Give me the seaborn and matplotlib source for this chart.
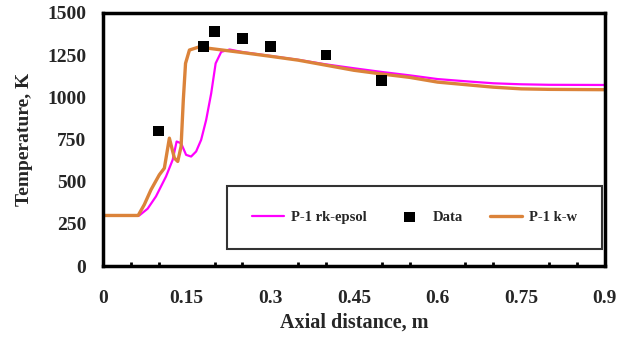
import matplotlib
matplotlib.use("Agg")
import matplotlib.pyplot as plt
import seaborn as sns
import pandas as pd
from matplotlib.ticker import MultipleLocator

# ---- data ----
rk_x = [0, 0.065, 0.08, 0.095, 0.113, 0.125, 0.132, 0.14, 0.149, 0.158, 0.167, 0.176,
        0.185, 0.194, 0.202, 0.212, 0.227, 0.25, 0.3, 0.35, 0.4, 0.45, 0.5, 0.55, 0.6,
        0.65, 0.7, 0.75, 0.8, 0.9]
rk_T = [300, 300, 340, 413, 531, 630, 738, 728, 659, 649, 679, 748,
        866, 1023, 1201, 1269, 1283, 1268, 1245, 1222, 1195, 1172, 1150, 1130, 1108,
        1095, 1083, 1077, 1074, 1073]

kw_x = [0, 0.063, 0.074, 0.086, 0.101, 0.110, 0.119, 0.128, 0.134, 0.140, 0.144, 0.148,
        0.155, 0.173, 0.19, 0.25, 0.3, 0.35, 0.4, 0.45, 0.5, 0.55, 0.6, 0.65, 0.7, 0.75,
        0.8, 0.9]
kw_T = [300, 300, 364, 452, 541, 580, 758, 640, 620, 708, 984, 1201,
        1280, 1299, 1290, 1265, 1243, 1220, 1190, 1160, 1138, 1118, 1090, 1075, 1060, 1050,
        1047, 1045]

data_x = [0.1, 0.18, 0.2, 0.25, 0.3, 0.4, 0.5]
data_T = [800, 1300, 1390, 1350, 1300, 1250, 1100]

x_ticks = [0, 0.15, 0.3, 0.45, 0.6, 0.75, 0.9]
x_tick_labels = ["0", "0.15", "0.3", "0.45", "0.6", "0.75", "0.9"]
y_ticks = [0, 250, 500, 750, 1000, 1250, 1500]

# ---- style ----
sns.set_style("white")
plt.rcParams['font.family'] = ['Liberation Serif', 'DejaVu Serif']
plt.rcParams['font.weight'] = 'bold'

fig = plt.figure(figsize=(6.32, 3.39), dpi=100)
ax = fig.add_axes([0.163, 0.215, 0.794, 0.747])

rk_df = pd.DataFrame({"x": rk_x, "T": rk_T})
kw_df = pd.DataFrame({"x": kw_x, "T": kw_T})
d_df = pd.DataFrame({"x": data_x, "T": data_T})

sns.lineplot(data=rk_df, x="x", y="T", ax=ax, color="#FF00FF", lw=1.6,
             label="P-1 rk-epsol", sort=False, estimator=None)
sns.scatterplot(data=d_df, x="x", y="T", ax=ax, color="black", marker="s", s=60,
                edgecolor="none", label="Data", zorder=5)
sns.lineplot(data=kw_df, x="x", y="T", ax=ax, color="#DB833A", lw=2.4,
             label="P-1 k-w", sort=False, estimator=None)

ax.set_xlim(0, 0.9)
ax.set_ylim(0, 1500)
ax.set_xticks(x_ticks)
ax.set_xticklabels(x_tick_labels)
ax.set_yticks(y_ticks)
ax.xaxis.set_minor_locator(MultipleLocator(0.05))

for lab in ax.get_xticklabels() + ax.get_yticklabels():
    lab.set_fontweight('bold')
    lab.set_fontsize(14)

ax.tick_params(axis='both', which='major', direction='in', length=5, width=2.5, color='black')
ax.tick_params(axis='x', which='major', pad=17)
ax.tick_params(axis='y', which='major', pad=12)
ax.tick_params(axis='x', which='minor', direction='in', length=3, width=2, color='black', bottom=True)

for sp in ax.spines.values():
    sp.set_visible(True)
    sp.set_color('black')
    sp.set_linewidth(2.5)

ax.set_xlabel("Axial distance, m", fontsize=14.5, fontweight='bold', labelpad=4)
ax.set_ylabel("Temperature, K", fontsize=14, fontweight='bold', labelpad=10)

leg = ax.legend(loc='center', bbox_to_anchor=(0.247, 0.071, 0.747, 0.245), mode='expand',
                borderaxespad=0.0,
                ncol=3, frameon=True, fancybox=False, edgecolor='black', borderpad=1.7,
                prop={'weight': 'bold', 'size': 10.5}, handlelength=2.2, markerscale=1.0,
                columnspacing=1.5, handletextpad=0.5)
leg.get_frame().set_linewidth(1.5)

fig.savefig("out.png", dpi=100)
